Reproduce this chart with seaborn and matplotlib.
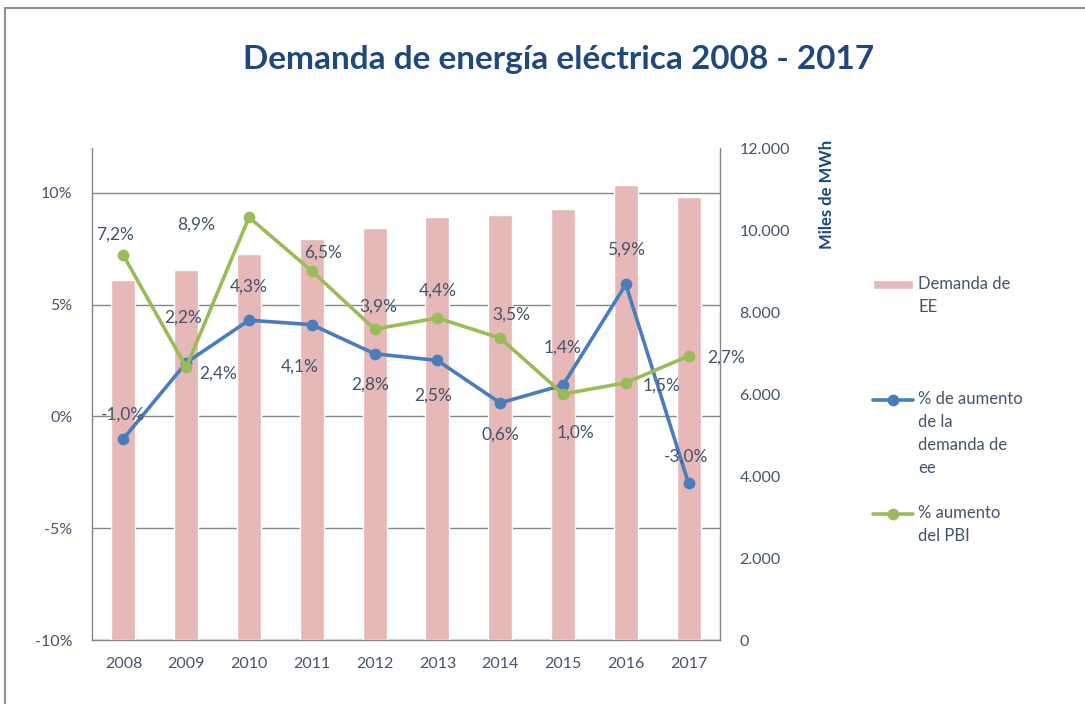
import numpy as np
import pandas as pd
import seaborn as sns
import matplotlib
matplotlib.use("Agg")
import matplotlib.pyplot as plt
from matplotlib.lines import Line2D
from matplotlib.ticker import FuncFormatter, MultipleLocator

# data
years = ["2008", "2009", "2010", "2011", "2012", "2013", "2014", "2015", "2016", "2017"]
demanda_ee = [8780, 9020, 9410, 9780, 10050, 10320, 10370, 10510, 11100, 10800]
aumento_demanda = [-1.0, 2.4, 4.3, 4.1, 2.8, 2.5, 0.6, 1.4, 5.9, -3.0]
aumento_pbi = [7.2, 2.2, 8.9, 6.5, 3.9, 4.4, 3.5, 1.0, 1.5, 2.7]

# label offsets (points) for the data labels
off_demanda = [(0, 17), (23, -8), (0, 24), (-9, -30), (-3, -22), (-3, -25), (0, -23), (0, 27), (0, 25), (-2, 19)]
off_pbi = [(-6, 15), (-2, 36), (-38, -5), (8, 13), (3, 16), (0, 20), (8, 17), (9, -28), (26, -2), (27, -1)]

sns.set_theme(style="white")
plt.rcParams["font.family"] = ["Lato", "DejaVu Sans"]

txt = "#44546A"
navy = "#1F497D"
grey = "#868686"
c_bar = "#E6B8B7"
c_blue = "#4A7EBB"
c_green = "#9BBB59"

df = pd.DataFrame({"anio": years, "demanda": demanda_ee,
                   "aum_dem": aumento_demanda, "aum_pbi": aumento_pbi})

fig = plt.figure(figsize=(10.85, 7.04), dpi=100)
ax = fig.add_axes([92 / 1085, 1 - 640 / 704, 628 / 1085, 492 / 704])
axb = ax.twinx()
axl = ax.twinx()

# percent axis with grid (drawn first, below the bars)
ax.set_xlim(-0.5, 9.5)
ax.set_ylim(-10, 12)
ax.yaxis.set_major_locator(MultipleLocator(5))
ax.yaxis.set_major_formatter(FuncFormatter(lambda v, p: f"{v:.0f}%"))
ax.grid(axis="y", color=grey, linewidth=1)
ax.grid(axis="x", visible=False)
ax.tick_params(axis="y", length=0, pad=14, labelsize=11.5, labelcolor=txt)
ax.tick_params(axis="x", length=0, pad=12, labelsize=11.5, labelcolor=txt)
ax.set_xticks(range(len(years)))
ax.set_xticklabels(years)

# bars on the right axis
sns.barplot(data=df, x="anio", y="demanda", color=c_bar, width=0.38,
            saturation=1, ax=axb, label="\nDemanda de\nEE")
axb.set_ylim(0, 12000)
axb.set_xlim(-0.5, 9.5)
axb.yaxis.set_major_locator(MultipleLocator(2000))
axb.yaxis.set_major_formatter(FuncFormatter(lambda v, p: f"{v:,.0f}".replace(",", ".")))
axb.tick_params(axis="y", length=0, pad=14, labelsize=11.5, labelcolor=txt)
axb.set_xlabel("")
axb.set_ylabel("Miles de MWh", fontsize=12, fontweight="bold", color=navy)
axb.yaxis.set_label_coords(1.158, 0.905)

# lines on top
sns.pointplot(data=df, x="anio", y="aum_dem", color=c_blue, markers="o",
              markersize=6.5, linewidth=2.6, ax=axl,
              label="\n\n\n% de aumento\nde la\ndemanda de\nee")
sns.pointplot(data=df, x="anio", y="aum_pbi", color=c_green, markers="o",
              markersize=6.5, linewidth=2.6, ax=axl, label="\n% aumento\ndel PBI")
axl.set_ylim(-10, 12)
axl.set_xlim(-0.5, 9.5)
axl.set_yticks([])
axl.set_ylabel("")
axl.set_xlabel("")
ax.set_xlabel("")

for i, v in enumerate(aumento_demanda):
    axl.annotate(f"{v:.1f}%".replace(".", ","), (i, v), xytext=off_demanda[i],
                 textcoords="offset points", ha="center", va="center",
                 fontsize=12.5, color=txt)
for i, v in enumerate(aumento_pbi):
    axl.annotate(f"{v:.1f}%".replace(".", ","), (i, v), xytext=off_pbi[i],
                 textcoords="offset points", ha="center", va="center",
                 fontsize=12.5, color=txt)

for a in (ax, axb, axl):
    for s in a.spines.values():
        s.set_visible(False)
ax.spines["left"].set_visible(True)
ax.spines["bottom"].set_visible(True)
axb.spines["right"].set_visible(True)
for a, s in ((ax, "left"), (ax, "bottom"), (axb, "right")):
    a.spines[s].set_color(grey)
    a.spines[s].set_linewidth(1)

for a in (axb, axl):
    if a.get_legend() is not None:
        a.get_legend().remove()

hb, lb = axb.get_legend_handles_labels()
hl, ll = axl.get_legend_handles_labels()
leg = fig.legend(hb + hl, lb + ll, loc="upper left",
                 bbox_to_anchor=(858 / 1085, 1 - 238 / 704), frameon=False,
                 fontsize=12, labelcolor=txt, labelspacing=0.35,
                 handlelength=2.4, handleheight=0.5, handletextpad=0.3)
for t in leg.get_texts():
    t.set_linespacing(1.55)

fig.suptitle("Demanda de energía eléctrica 2008 - 2017", x=559 / 1085,
             y=1 - 60 / 704, va="center", fontsize=24, fontweight="bold", color=navy)

# outer frame (left and top edges)
fig.add_artist(Line2D([5 / 1085, 5 / 1085], [0, 1 - 8 / 704], color="#909090", linewidth=1.5,
                      transform=fig.transFigure))
fig.add_artist(Line2D([5 / 1085, 1], [1 - 8 / 704, 1 - 8 / 704], color="#909090", linewidth=1.5,
                      transform=fig.transFigure))

fig.savefig("out.png", dpi=100)
